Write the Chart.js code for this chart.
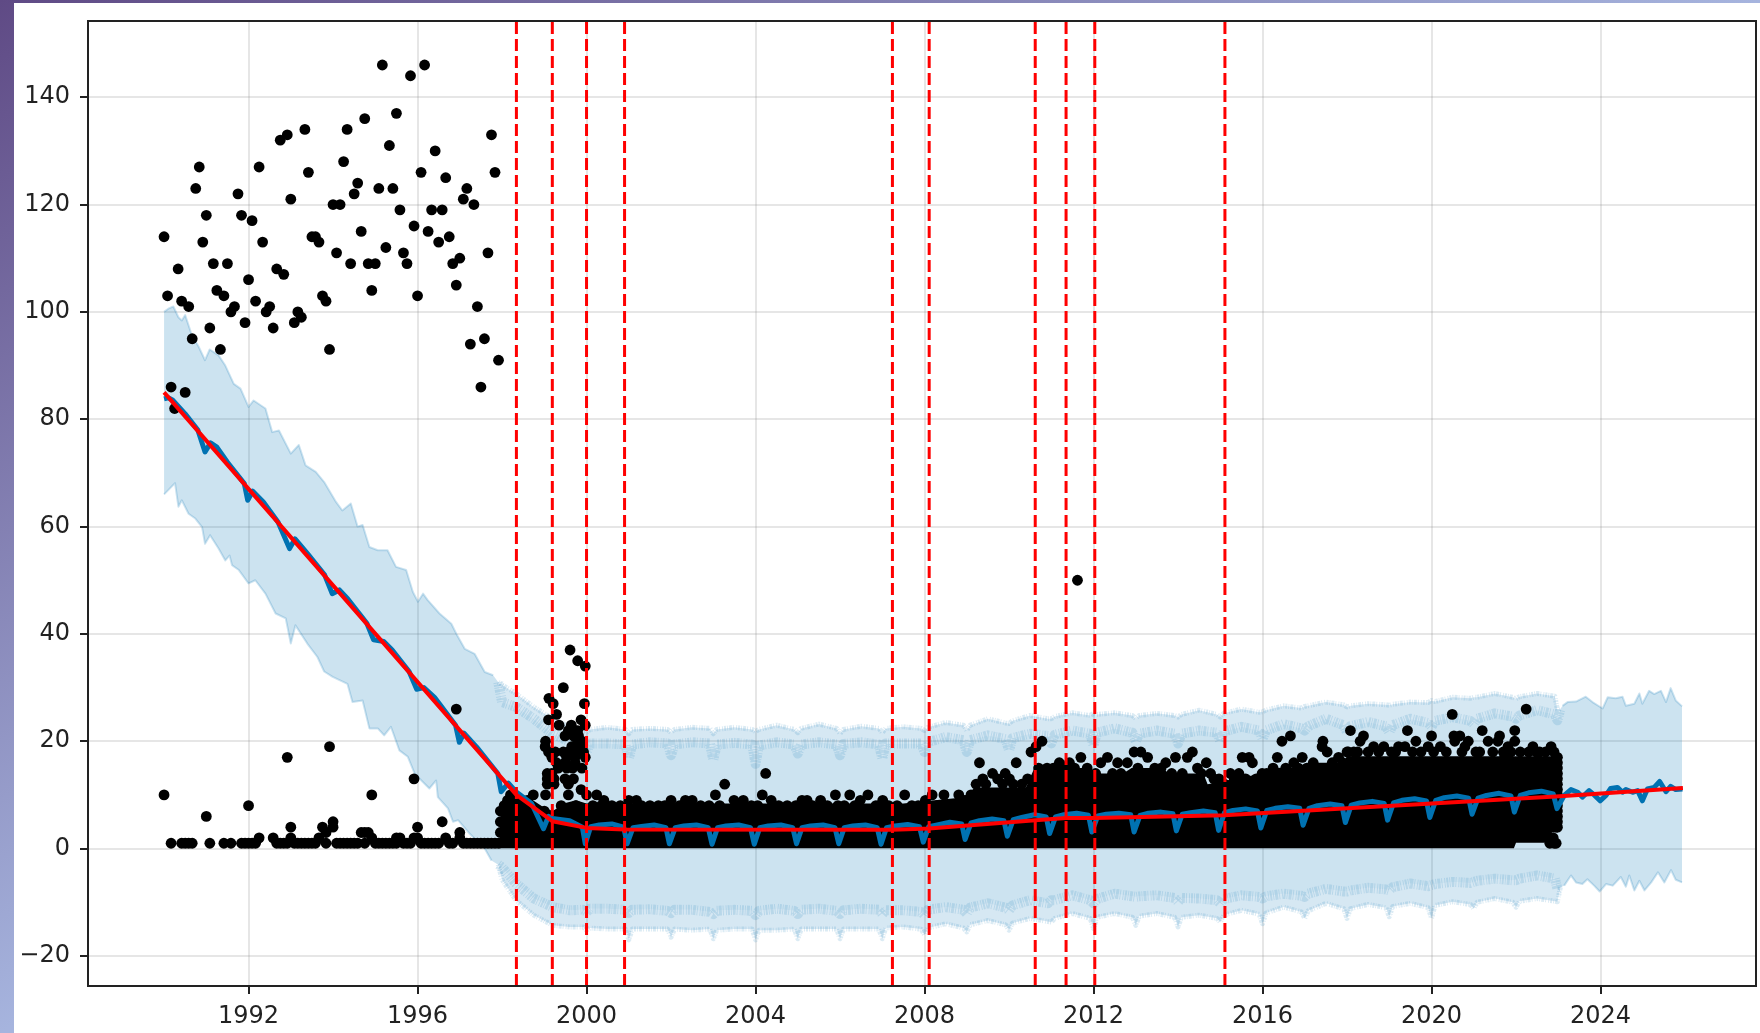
<!DOCTYPE html>
<html>
<head>
<meta charset="utf-8">
<title>Forecast with changepoints</title>
<script src="https://cdn.jsdelivr.net/npm/chart.js@4/dist/chart.umd.min.js"></script>
<style>
  html, body { margin: 0; padding: 0; width: 1760px; height: 1033px; overflow: hidden; }
  body { background: linear-gradient(to bottom right, #5f4a85 0%, #a6b4de 50%, #a6b4de 100%); position: relative; }
  #panel { position: absolute; left: 14px; top: 3px; right: 0; bottom: 0; background: #fff; }
  #chart { position: absolute; left: 0; top: 0; filter: blur(0.6px); }
</style>
</head>
<body>
<div id="panel"></div>
<canvas id="chart" width="1760" height="1033"></canvas>
<script>
const xTicks = [1992,1996,2000,2004,2008,2012,2016,2020,2024];
const yTicks = [-20,0,20,40,60,80,100,120,140];

// monthly observations 1990-1997, upper cloud, one per month from Jan 1990
const highValues = [114,103,86,82,108,102,85,101,95,123,127,113,118,97,109,104,93,103,109,100,101,122,118,98,
  106,117,102,127,113,100,101,97,108,132,107,133,121,98,100,99,134,126,114,114,113,103,102,93,
  120,111,120,128,134,109,122,124,115,136,109,104,109,123,146,112,131,123,137,119,111,109,144,116,
  103,126,146,115,119,130,113,119,125,114,109,105,110,121,123,94,120,101,86,95,111,133,126,91];

// lower cloud: month offset from Jan 1990, value
const lowMonths = [0,2,5,6,7,8,12,13,17,19,22,23,24,24,25,26,27,31,32,33,34,35,35,36,36,37,38,39,40,41,42,43,44,45,46,46,47,48,48,
  49,50,51,52,53,54,55,56,57,57,58,59,59,60,61,62,63,64,65,66,66,67,68,69,70,71,71,72,72,73,74,75,76,77,78,79,80,81,82,83,84,84,85,86,87,88,89,90,91,92,93,94,95];
const lowValues = [10,1,1,1,1,1,6,1,1,1,1,1,8,1,1,1,2,2,1,1,1,17,1,4,2,1,1,1,1,1,1,1,2,4,3,1,19,5,4,
  1,1,1,1,1,1,1,3,3,1,3,10,2,1,1,1,1,1,1,2,1,2,1,1,1,13,2,4,2,1,1,1,1,1,1,5,2,1,1,26,3,2,1,1,1,1,1,1,1,1,1,1,1];

// loose points above the solid mass after 1998
const looseYears = [1998.74,1999.03,1999.61,1999.79,1999.97,1999.45,1999.11,1999.21,1999.95,1999.29,1999.10,1999.87,1999.35,1999.64,1999.97,
  1999.79,1999.57,1999.69,1999.49,1999.69,1999.81,1999.79,1999.89,1999.03,1999.02,1999.65,1999.89,1999.10,1999.26,1999.45,1999.57,1999.67,1999.77,1999.93,
  1999.18,1999.97,1999.53,1999.73,1999.29,1999.49,1999.73,1999.89,1999.33,1999.53,1999.67,1999.07,1999.18,1999.07,1999.23,1999.49,1999.69,1999.23,1999.07,1999.57,1999.87,1999.57,
  2003.27,2004.24,2003.05,2004.16,2004.37,2005.89,2006.23,2006.66,2007.53,2008.18,2008.46,2008.81,2000.24,2000.00,2001.00,2001.18,2000.41,2002.00,2002.34,2002.50,2003.49,2003.71,2005.10,2005.22,2005.54,2006.48,2007.01,2008.02,
  2009.30,2010.17,2010.52,2010.64,2010.78,2009.61,2009.91,2009.38,2009.73,2010.01,2010.44,2009.22,2011.19,2011.43,2011.62,2011.70,2012.33,2012.17,2012.57,2012.80,2012.96,2013.12,2013.28,2013.71,2013.94,2014.34,2014.22,2014.67,2014.46,2014.77,2014.97,
  2015.24,2015.52,2015.68,2015.76,2015.44,2015.99,2016.35,2016.46,2016.66,2016.74,2016.94,2017.43,2017.41,2017.53,2017.80,2018.00,2018.16,2018.08,2018.39,2018.31,2018.63,2018.87,2019.22,
  2019.43,2019.37,2019.63,2019.92,2020.00,2020.21,2020.49,2020.53,2020.67,2020.55,2020.87,2020.79,2021.20,2021.34,2021.61,2021.57,2021.81,2021.97,2021.97,2022.24,2022.40,2022.83,2021.14,2022.56,2021.73,2018.03,2022.95,
  2022.80,2022.90,2022.95,2022.88];
const looseValues = [10,10,37,35,34,30,28,27,27,25,24,24,23,23,23,
  22,22,22,21,21,21,20,20,20,19,19,19,18,18,18,18,18,18,18,
  17,17,17,17,16,16,16,15,15,15,15,14,14,13,13,13,13,12,12,12,11,10,
  12,14,10,10,9,10,10,10,10,10,10,10,10,10,9,9,9,9,9,9,9,9,9,9,9,9,9,9,
  16,16,18,19,20,14,14,13,13,13,13,12,16,16,50,17,17,16,16,16,18,18,17,16,17,18,17,16,15,14,13,
  14,17,17,16,14,14,17,20,21,16,17,20,19,18,17,18,18,22,21,20,19,19,19,
  22,19,20,19,21,19,25,21,21,20,20,19,22,20,21,20,19,22,20,26,19,19,18,18,17,18,17,
  1,1,1,2];

// rows of points along the edges of the solid mass
const rimYears = [1997.96,1997.96,1997.96,1998.05,1998.13,1998.20,1998.45,1998.60,1999.00,1999.40,1999.75,2000.15,2000.35,2000.60,2000.80,2001.30,2001.50,2001.70,2001.85,2002.20,2002.70,2002.90,2003.15,2003.65,2003.90,2004.05,2004.55,2004.75,2004.95,2005.35,2005.70,2005.95,2006.10,2006.35,2006.85,2007.15,2007.35,2007.70,2007.85,2008.30,2008.60,2008.95,
  2009.10,2009.45,2009.85,2010.10,2010.30,2010.70,2010.90,2011.05,2011.30,2011.55,2011.85,2012.05,2012.45,2012.65,2013.05,2013.45,2013.60,2013.85,2014.10,2014.55,2014.85,2015.10,2015.33,2015.60,2015.85,2016.10,2016.25,2016.55,2016.85,2017.05,2017.20,2017.65,2017.90,
  2018.25,2018.50,2018.75,2019.05,2019.15,2019.55,2019.75,2020.05,2020.35,2020.72,2021.05,2021.45,2021.70,2021.88,2022.10,2022.30,2022.48,2022.70,2022.90,
  2022.98,2022.98,2022.98,2022.98,2022.98,2022.98,2022.98,2022.98,2022.98,2022.98,2022.98,2022.98,2022.98,2022.98];
const rimValues = [3,5,7,8,9,10,9,9,7,8,8,8,8,8,8,8,8,8,8,8,8,8,8,8,8,8,8,8,8,8,8,8,8,8,8,8,8,8,8,8,8,9,
  10,12,12,12,12,15,15,15,15,15,15,14,14,14,15,15,15,14,14,14,13,12,13,13,13,14,15,15,15,15,16,16,16,
  18,18,18,18,18,18,18,18,18,18,18,18,18,18,18,18,18,18,18,
  17,16,15,14,13,12,11,10,9,8,7,6,5,4];

// outline of the solid block of daily observations
const massYears = [1997.93,1997.95,1998.00,1998.10,1998.25,1998.33,1998.50,1998.75,1999.00,1999.20,1999.50,1999.75,2000.00,2007.50,2008.00,2008.90,2009.20,2010.40,2010.60,2011.90,2012.10,2012.70,2012.90,2013.60,2013.80,2014.60,2014.70,2015.05,2015.20,2016.00,2016.30,2016.90,2017.30,2017.90,2018.00,2021.95,2022.00,2022.80,2022.85,2023.00];
const massTop = [1.9,5,7.5,9.5,11.4,11,10,8.9,7.6,7,8.5,9,8.4,8.4,8.8,9.5,11.4,11.4,15,15,14,14,15,15,14,14,12,12.5,12.8,14,15,15.2,16,16,17.2,17.2,17.2,17.2,17.2,17.2];
const massBottom = [0.05,0.05,0.05,0.05,0.05,0.05,0.05,0.05,0.05,0.05,0.05,0.05,0.05,0.05,0.05,0.05,0.05,0.05,0.05,0.05,0.05,0.05,0.05,0.05,0.05,0.05,0.05,0.05,0.05,0.05,0.05,0.05,0.05,0.05,0.05,0.05,1.1,1.1,3,3];

// forecast line
const yhatYears = [1990.00,1990.10,1990.20,1990.50,1990.80,1990.97,1991.10,1991.25,1991.50,1991.90,1991.98,1992.10,1992.35,1992.70,1992.97,1993.10,1993.40,1993.80,1993.98,1994.15,1994.35,1994.80,1994.96,1995.20,1995.40,1995.80,1995.98,1996.15,1996.40,1996.90,1996.99,1997.10,1997.40,1997.90,1997.98,1998.15,1998.33,1998.70,1998.98,1999.10,1999.19,1999.60,1999.90,1999.97,
  2000.10,2000.30,2000.60,2000.88,2000.96,2001.10,2001.30,2001.60,2001.88,2001.96,2002.10,2002.30,2002.60,2002.88,2002.97,2003.10,2003.30,2003.60,2003.88,2003.97,2004.10,2004.30,2004.60,2004.88,2004.97,2005.10,2005.30,2005.60,2005.88,2005.97,2006.10,2006.30,2006.60,2006.88,2006.97,2007.10,2007.30,2007.60,2007.88,2007.97,
  2008.10,2008.30,2008.60,2008.88,2008.96,2009.10,2009.30,2009.60,2009.88,2009.96,2010.10,2010.30,2010.60,2010.88,2010.96,2011.10,2011.30,2011.60,2011.88,2011.96,2012.10,2012.30,2012.60,2012.88,2012.96,2013.10,2013.30,2013.60,2013.88,2013.96,2014.10,2014.30,2014.60,2014.88,2014.96,2015.10,2015.30,2015.60,2015.88,2015.96,
  2016.10,2016.30,2016.60,2016.88,2016.96,2017.10,2017.30,2017.60,2017.88,2017.96,2018.10,2018.30,2018.60,2018.88,2018.96,2019.10,2019.30,2019.60,2019.88,2019.96,2020.10,2020.30,2020.60,2020.88,2020.96,2021.10,2021.30,2021.60,2021.88,2021.96,2022.10,2022.30,2022.60,2022.88,2022.97,
  2023.14,2023.30,2023.46,2023.57,2023.73,2023.85,2023.99,2024.13,2024.24,2024.40,2024.52,2024.60,2024.76,2024.88,2024.99,2025.11,2025.27,2025.40,2025.55,2025.66,2025.78,2025.94];
const yhatValues = [83.8,84,83.6,81,78,73.9,75.6,74.8,72,68,64.9,66.6,64.6,60.8,55.9,57.7,54.9,51,47.5,48.2,46.5,42,38.9,38.6,37,33,29.7,30,28.2,23,19.8,21.5,18.9,14,10.6,12.2,10.6,8.4,3.7,6,5.6,5.2,4,0.9,
  4.1,4.4,4.6,4,0.9,3.9,4.1,4.4,3.9,0.9,3.9,4.2,4.4,3.9,0.8,3.9,4.2,4.4,3.9,0.8,3.9,4.2,4.4,3.9,0.9,3.9,4.2,4.4,3.9,0.9,3.9,4.2,4.4,3.9,0.8,3.9,4.2,4.5,4.1,1.2,
  4.1,4.4,4.9,4.6,1.7,4.8,5.2,5.5,5.2,2.3,5.4,5.8,6.3,5.9,2.8,5.9,6.3,6.6,6.2,3.1,6.1,6.4,6.6,6.3,3.1,6.2,6.6,6.8,6.5,3.3,6.4,6.7,7,6.7,3.4,6.7,7.1,7.4,7,3.85,
  7.1,7.5,7.8,7.5,4.35,7.5,8,8.3,8,4.85,8.1,8.5,8.8,8.4,5.3,8.5,9,9.3,8.9,5.8,9,9.5,9.8,9.4,6.4,9.4,9.9,10.3,9.8,6.8,9.9,10.4,10.7,10.2,7.45,
  9.9,11,10.5,9.6,10.8,10,8.9,9.9,11.2,11.4,10.5,11,10.5,10.8,8.9,11.1,11.4,12.5,10.6,11.6,11,11.1];

// uncertainty band, sparse monthly part before 1998
const upperEarlyYears = [1990.00,1990.10,1990.22,1990.34,1990.42,1990.50,1990.66,1990.82,1990.97,1991.08,1991.29,1991.45,1991.65,1991.81,1992.00,1992.12,1992.40,1992.56,1992.72,1993.00,1993.19,1993.35,1993.59,1993.79,1994.07,1994.22,1994.42,1994.58,1994.70,1994.86,1995.06,1995.29,1995.49,1995.73,1995.89,1996.01,1996.13,1996.24,1996.52,1996.80,1996.92,1997.12,1997.35,1997.59,1997.79];
const upperEarly = [100,100.6,101,99,98.4,99.4,95.6,93.5,91,93,91.9,90,86.6,85.7,82.3,83.5,82,77.6,77.9,73.6,75.2,71.4,70.2,68.3,64.6,63,64.3,60,60.3,56.2,55.6,55.6,52.5,51.9,47.8,46,47.5,46.3,43.8,41.9,40,37.2,36.3,32.9,32.3];
const lowerEarlyYears = [1990.00,1990.10,1990.26,1990.34,1990.42,1990.58,1990.74,1990.90,1990.97,1991.09,1991.29,1991.45,1991.55,1991.61,1991.77,1992.00,1992.16,1992.40,1992.64,1992.88,1993.00,1993.11,1993.39,1993.63,1993.79,1993.99,1994.34,1994.46,1994.70,1994.86,1995.06,1995.21,1995.37,1995.57,1995.77,1995.93,1996.09,1996.28,1996.44,1996.48,1996.72,1996.84,1996.96,1997.23,1997.59,1997.75];
const lowerEarly = [66,66.8,68.1,63.7,64.9,62.4,61.5,59.9,56.8,58.4,55.9,53.7,54.6,52.8,51.9,49.4,50,47.5,43.8,42.9,38.2,41.6,38.2,35.7,33,32,30.7,27.3,27.6,22.4,22.4,21.1,22.7,18.3,17.1,14,12.7,11.2,12.7,9.6,7.5,5,5.3,2.8,0,-2.2];

// daily part, fuzzy band edges: sampled at each New Year dip and between
const fringeYears = [1997.91,1998.00,1998.33,1998.75,1999.20,1999.60,1999.92,
  2000.00,2000.08,2000.50,2000.92,2001.00,2001.08,2001.50,2001.92,2002.00,2002.08,2002.50,2002.92,2003.00,2003.08,2003.50,2003.92,2004.00,2004.08,2004.50,2004.92,2005.00,2005.08,2005.50,2005.92,2006.00,2006.08,2006.50,2006.92,2007.00,2007.08,2007.50,2007.92,
  2008.00,2008.08,2008.50,2008.92,2009.00,2009.08,2009.50,2009.92,2010.00,2010.08,2010.50,2010.92,2011.00,2011.08,2011.50,2011.92,2012.00,2012.08,2012.50,2012.92,2013.00,2013.08,2013.50,2013.92,2014.00,2014.08,2014.50,2014.92,2015.00,2015.08,2015.50,2015.92,
  2016.00,2016.08,2016.50,2016.92,2017.00,2017.08,2017.50,2017.92,2018.00,2018.08,2018.50,2018.92,2019.00,2019.08,2019.50,2019.92,2020.00,2020.08,2020.50,2020.92,2021.00,2021.08,2021.50,2021.92,2022.00,2022.08,2022.50,2022.92,2022.98,2023.05];
const upperOuter = [31,30.5,28.9,26.4,24.2,22.7,22.2,
  21.6,22.2,22.6,22.2,21.4,22.2,22.4,22.2,21.6,22.2,22.6,22.4,21.4,22.2,22.6,22.2,21.8,22.2,23,22.2,21.6,22.4,23.2,22.4,21.4,22.2,22.8,22.4,21.6,22.4,22.7,22.4,
  22,22.6,23.5,23,22,23,24.2,23.4,23.3,23.8,24.8,24.2,24.2,24.6,25.3,24.8,25.2,25,25.3,24.8,24.2,24.8,25.2,24.8,24.5,25,25.8,25,24.5,25.2,26,25.4,
  25.5,25.8,26.6,26.2,26.5,26.6,27.3,26.8,26.4,26.6,27,26.8,26.7,26.9,27.3,27.2,27.6,27.4,28.2,28,28.2,28.2,28.9,28.2,27.9,28.3,28.9,28.4,25.8,26];
const upperInner = [31,27.3,26.4,24.2,21.4,19.9,19.6,
  18,19.6,19.6,19.4,16.8,19.4,19.8,19.6,17.4,19.4,19.8,19.6,16.5,19.4,19.7,19.4,15.8,19.2,19.8,19.4,17.7,19.4,19.8,19.4,17.4,19.5,19.8,19.4,16.8,19.6,19.6,19.6,
  18,19.8,20.8,20.2,18,20.2,21.1,20.4,18.3,20.6,21.4,21,19.6,21.2,22,21.4,19.3,21.6,22.4,21.6,20,21.4,22,21.4,19.6,21.4,22,21.6,20,21.8,22.7,22,
  20.5,22,23.2,22.4,22,22.8,24.2,23,21.7,22.8,23.6,22.8,21.7,23,24.2,23.4,22.7,23.8,24.5,23.8,23.2,24.2,25.2,24.6,24.2,24.8,25.8,25,23.9,26];
const lowerInner = [-3,-3.5,-6.5,-9.3,-10.9,-11.5,-11.4,
  -11.8,-11.2,-11.2,-11.4,-12,-11.4,-11.3,-11.6,-12,-11.4,-11.4,-11.8,-12.2,-11.6,-11.4,-11.6,-12.4,-11.6,-11.2,-11.6,-12.2,-11.4,-11.2,-11.6,-12.2,-11.5,-11.2,-11.4,-12.2,-11.5,-11.5,-11.8,
  -12.4,-11.4,-10.9,-11.4,-12.1,-11,-10.2,-11,-11.5,-10.6,-9.6,-10.2,-9.6,-9.6,-8.7,-9.6,-10.2,-9.4,-8.4,-8.9,-9,-8.9,-8.7,-9.2,-9.9,-9.2,-9.3,-9.6,-10.2,-9.4,-8.7,-9,
  -9.3,-8.9,-8.4,-8.8,-9,-8.4,-7.5,-8,-8,-7.8,-7.3,-7.6,-7.8,-7.2,-6.5,-7,-6.8,-6.6,-6.2,-6.4,-6.2,-6,-5.6,-5.9,-5.9,-5.6,-5,-5.6,-7.5,-7.2];
const lowerOuter = [-3,-5.8,-9.6,-12.4,-14.3,-14.6,-14.6,
  -15.2,-14.8,-15,-15,-17,-15,-15,-15,-16.5,-15,-15.2,-15,-16.8,-15.2,-15,-15,-17,-15.2,-15.2,-15,-16.8,-15,-15,-15,-16.8,-15,-15,-15,-16.8,-14.8,-14.6,-15,
  -16.1,-14.8,-14,-14.8,-15.5,-14.2,-13.4,-14.2,-15.2,-13.9,-13,-13.6,-13.7,-13,-12.1,-13,-14.9,-12.8,-12.1,-12.8,-14.3,-12.6,-12.1,-12.8,-14.6,-12.8,-12.4,-13,-13.7,-12.4,-11.5,-12.2,
  -14,-12,-10.9,-11.8,-13,-11.6,-10.2,-11.2,-13,-11.2,-10.4,-11,-12.7,-10.8,-10.2,-11,-13,-10.6,-9.9,-10.4,-11.2,-10,-9.3,-10,-10.9,-9.8,-9.3,-9.8,-9.9,-7.2];

// band after the last observation, monthly again
const upperLateYears = [2023.10,2023.22,2023.42,2023.65,2023.81,2024.05,2024.17,2024.36,2024.52,2024.60,2024.80,2024.92,2024.99,2025.15,2025.27,2025.43,2025.55,2025.66,2025.78,2025.93];
const upperLate = [26.6,27.3,27.4,28.3,27.3,26.1,28.2,28,28.3,26.6,27,28.9,27,29.4,28.8,29.4,27.3,29.9,27.6,26.5];
const lowerLateYears = [2023.14,2023.30,2023.42,2023.57,2023.69,2023.85,2023.98,2024.13,2024.29,2024.48,2024.60,2024.68,2024.80,2024.92,2025.04,2025.20,2025.36,2025.51,2025.67,2025.78,2025.93];
const lowerLate = [-6.9,-5,-6.3,-6.6,-5.7,-6.9,-8,-6.6,-6.9,-5.3,-7.1,-5,-7.8,-6,-7.8,-6.3,-4.4,-6.3,-4,-5.8,-6.3];

// trend and its changepoints
const trendYears = [1990.00,1998.34,1999.19,2000.00,2000.90,2007.24,2008.11,2010.62,2011.35,2012.01,2015.09,2023.04,2025.95];
const trendValues = [85,10,5.1,3.86,3.55,3.5,3.75,5.3,5.7,5.7,6.2,9.76,11.3];
const changepoints = [1998.34,1999.19,2000.00,2000.90,2007.24,2008.11,2010.62,2011.35,2012.03,2015.11];

const yMin = -25.6, yMax = 154.2, xMin = 1988.2, xMax = 2027.68;

const pts = (xs, ys) => xs.map((x, i) => ({x: x, y: ys[i]}));
const bandBlue = 'rgba(0,114,178,0.2)';
const fringeBlue = 'rgba(0,114,178,0.16)';
const hatchBlue = 'rgba(0,114,178,0.14)';
// fine irregular dashes on a wide stroke: gives the daily band edge its scratchy look
const hatchDash = [1, 1, 2, 1, 1, 1, 3, 1, 1, 2];
const hatch = {borderColor: hatchBlue, borderCapStyle: 'butt', borderDash: hatchDash};

const highYears = highValues.map((_, i) => 1990 + i / 12);
const lowYears = lowMonths.map(m => 1990 + m / 12);

const base = {type: 'line', pointRadius: 0, borderWidth: 0, tension: 0, fill: false, borderJoinStyle: 'round'};
const dots = (xs, ys) => ({...base, data: pts(xs, ys), showLine: false, pointRadius: 5.4, pointBackgroundColor: '#000', pointBorderWidth: 0, order: 7});

const datasets = [
  {...base, data: pts(massYears, massBottom), order: 9},
  {...base, data: pts(massYears, massTop), fill: {target: 0, above: '#000', below: '#000'}, order: 8},
  dots(highYears, highValues),
  dots(lowYears, lowValues),
  dots(looseYears, looseValues),
  dots(rimYears, rimValues),
  {...base, data: pts(yhatYears, yhatValues), borderColor: '#0072B2', borderWidth: 5, order: 6},
  // index 7: lower side, index 8: upper side filled down to it
  {...base, data: pts([...lowerEarlyYears, ...fringeYears, ...lowerLateYears], [...lowerEarly, ...lowerInner, ...lowerLate]), order: 14},
  {...base, data: pts([...upperEarlyYears, ...fringeYears, ...upperLateYears], [...upperEarly, ...upperInner, ...upperLate]), fill: {target: 7, above: bandBlue, below: bandBlue}, order: 14},
  // index 9 and 10: fuzzy upper edge, 11 and 12: fuzzy lower edge
  {...base, ...hatch, borderWidth: 10, data: pts(fringeYears, upperInner), order: 13},
  {...base, ...hatch, borderWidth: 5, data: pts(fringeYears, upperOuter), fill: {target: 9, above: fringeBlue, below: fringeBlue}, order: 13},
  {...base, ...hatch, borderWidth: 10, data: pts(fringeYears, lowerInner), order: 13},
  {...base, ...hatch, borderWidth: 5, data: pts(fringeYears, lowerOuter), fill: {target: 11, above: fringeBlue, below: fringeBlue}, order: 13},
  // thin band edges where the data is monthly
  {...base, data: pts(upperEarlyYears, upperEarly), borderColor: bandBlue, borderWidth: 2, order: 12},
  {...base, data: pts(lowerEarlyYears, lowerEarly), borderColor: bandBlue, borderWidth: 2, order: 12},
  {...base, data: pts(upperLateYears, upperLate), borderColor: bandBlue, borderWidth: 2, order: 12},
  {...base, data: pts(lowerLateYears, lowerLate), borderColor: bandBlue, borderWidth: 2, order: 12},
  ...changepoints.map(c => ({...base, data: pts([c, c], [yMin, yMax]), borderColor: '#ff0000', borderWidth: 3, borderDash: [12, 5], order: 1})),
  {...base, data: pts(trendYears, trendValues), borderColor: '#ff0000', borderWidth: 4, order: 0}
];

const frame = {
  id: 'frame',
  afterDraw(chart) {
    const a = chart.chartArea, ctx = chart.ctx;
    ctx.save();
    ctx.strokeStyle = '#222';
    ctx.lineWidth = 2;
    ctx.strokeRect(a.left, a.top, a.right - a.left, a.bottom - a.top);
    ctx.restore();
  }
};

const gridOpts = {color: 'rgba(128,128,128,0.2)', lineWidth: 2, tickLength: 8, tickColor: '#222', tickWidth: 2};
const tickFont = {family: '"DejaVu Sans"', size: 24};

// the scales ask for room for their end labels; the plot box is fixed here instead
const noScalePadding = s => { s.paddingTop = 0; s.paddingBottom = 0; s.paddingLeft = 0; s.paddingRight = 0; };

new Chart(document.getElementById('chart'), {
  type: 'line',
  data: {datasets: datasets},
  plugins: [frame],
  options: {
    responsive: false,
    animation: false,
    events: [],
    layout: {autoPadding: false, padding: {left: 0, top: 21, right: 4, bottom: 0}},
    plugins: {legend: {display: false}, tooltip: {enabled: false}, title: {display: false}},
    scales: {
      x: {
        type: 'linear', min: xMin, max: xMax,
        grid: gridOpts,
        border: {display: false},
        afterFit(s) { s.height = 47; noScalePadding(s); },
        afterBuildTicks(s) { s.ticks = xTicks.map(v => ({value: v})); },
        ticks: {autoSkip: false, maxRotation: 0, color: '#222', font: tickFont, padding: 8,
          callback: v => String(v)}
      },
      y: {
        type: 'linear', min: yMin, max: yMax,
        grid: gridOpts,
        border: {display: false},
        afterFit(s) { s.width = 88; noScalePadding(s); },
        afterBuildTicks(s) { s.ticks = yTicks.map(v => ({value: v})); },
        ticks: {autoSkip: false, color: '#222', font: tickFont, padding: 10,
          callback: v => v < 0 ? '\u2212' + Math.abs(v) : String(v)}
      }
    }
  }
});
</script>
</body>
</html>
